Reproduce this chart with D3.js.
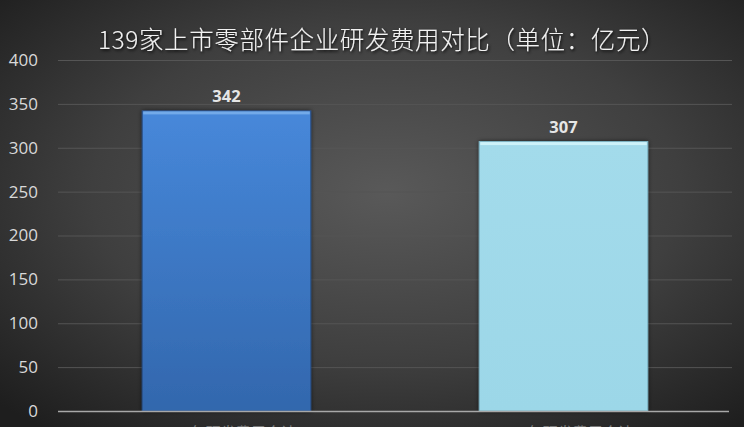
<!DOCTYPE html>
<html>
<head>
<meta charset="utf-8">
<script src="https://cdn.jsdelivr.net/npm/d3@7"></script>
<style>
  html, body { margin: 0; padding: 0; background: #2a2a2a; overflow: hidden; }
  svg { display: block; }
</style>
</head>
<body>
<svg id="chart" width="744" height="427"></svg>
<script>
// data
var titleText = "139家上市零部件企业研发费用对比（单位：亿元）";
var categories = ["2018年研发费用合计", "2017年研发费用合计"];
var values = [342, 307];
var yTicks = [0, 50, 100, 150, 200, 250, 300, 350, 400];

var svg = d3.select("#chart"),
    width = +svg.attr("width"),
    height = +svg.attr("height");

var plotLeft = 58, plotRight = 732, plotTop = 60, plotBottom = 411;

var defs = svg.append("defs");

// background radial gradient
var bg = defs.append("radialGradient")
    .attr("id", "bg")
    .attr("cx", "52%").attr("cy", "45%").attr("r", "72%");
bg.append("stop").attr("offset", "0%").attr("stop-color", "#595959");
bg.append("stop").attr("offset", "55%").attr("stop-color", "#3f3f3f");
bg.append("stop").attr("offset", "100%").attr("stop-color", "#1e1e1e");

var g1 = defs.append("linearGradient").attr("id", "bar0")
    .attr("x1", 0).attr("y1", 0).attr("x2", 0).attr("y2", 1);
g1.append("stop").attr("offset", "0%").attr("stop-color", "#4788da");
g1.append("stop").attr("offset", "100%").attr("stop-color", "#3267ad");

var g2 = defs.append("linearGradient").attr("id", "bar1")
    .attr("x1", 0).attr("y1", 0).attr("x2", 0).attr("y2", 1);
g2.append("stop").attr("offset", "0%").attr("stop-color", "#a3dbeb");
g2.append("stop").attr("offset", "100%").attr("stop-color", "#9cd7e8");

var glow = defs.append("filter").attr("id", "glow")
    .attr("x", "-10%").attr("y", "-30%").attr("width", "120%").attr("height", "160%");
glow.append("feDropShadow").attr("dx", 1).attr("dy", 1.5)
    .attr("stdDeviation", 1.5).attr("flood-color", "#000").attr("flood-opacity", 0.9);

var shade = defs.append("filter").attr("id", "shade")
    .attr("x", "-10%").attr("y", "-10%").attr("width", "120%").attr("height", "120%");
shade.append("feDropShadow").attr("dx", 0).attr("dy", 0)
    .attr("stdDeviation", 2).attr("flood-color", "#000").attr("flood-opacity", 0.6);

svg.append("rect")
    .attr("width", width).attr("height", height)
    .attr("fill", "url(#bg)");

var x = d3.scaleBand().domain(categories).range([plotLeft, plotRight]).paddingInner(0.5).paddingOuter(0.25);
var y = d3.scaleLinear().domain([0, 400]).range([plotBottom, plotTop]);

// title
svg.append("text")
    .attr("x", 382)
    .attr("y", 49)
    .attr("text-anchor", "middle")
    .style("font-family", "'Noto Sans CJK SC', sans-serif")
    .style("font-size", "24.5px")
    .style("font-weight", 300)
    .style("letter-spacing", "0.6px")
    .attr("fill", "#f2f2f2")
    .attr("filter", "url(#glow)")
    .text(titleText);

// gridlines
svg.append("g")
    .selectAll("line")
    .data(yTicks.filter(function(d) { return d > 0; }))
    .enter()
    .append("line")
    .attr("x1", plotLeft).attr("x2", plotRight)
    .attr("y1", function(d) { return y(d) + 0.5; })
    .attr("y2", function(d) { return y(d) + 0.5; })
    .attr("stroke", "#555555")
    .attr("stroke-width", 1);

// y axis labels
var yAxis = svg.append("g")
    .attr("transform", "translate(" + plotLeft + ",0)")
    .call(d3.axisLeft(y).tickValues(yTicks).tickSize(0).tickPadding(20));
yAxis.select(".domain").remove();
yAxis.selectAll("text")
    .style("font-family", "'Open Sans', 'Liberation Sans', sans-serif")
    .style("font-size", "17px")
    .attr("fill", "#d9d9d9");

// bars
svg.append("g")
    .selectAll("rect")
    .data(values)
    .enter()
    .append("rect")
    .attr("x", function(d, i) { return x(categories[i]); })
    .attr("y", function(d) { return y(d); })
    .attr("width", x.bandwidth())
    .attr("height", function(d) { return y(0) - y(d); })
    .attr("fill", function(d, i) { return "url(#bar" + i + ")"; })
    .attr("stroke", function(d, i) { return i == 0 ? "#2a528a" : "#7fb7c8"; })
    .attr("stroke-width", 1)
    .attr("filter", "url(#shade)");

// bevel highlight on top edge
svg.append("g")
    .selectAll("rect")
    .data(values)
    .enter()
    .append("rect")
    .attr("x", function(d, i) { return x(categories[i]) + 1; })
    .attr("y", function(d) { return y(d) + 0.5; })
    .attr("width", x.bandwidth() - 2)
    .attr("height", 3)
    .attr("fill", function(d, i) { return i == 0 ? "#78aeea" : "#d2f4fb"; })
    .attr("opacity", 0.9);

// value labels
svg.append("g")
    .selectAll("text")
    .data(values)
    .enter()
    .append("text")
    .attr("x", function(d, i) { return x(categories[i]) + x.bandwidth() / 2; })
    .attr("y", function(d) { return y(d) - 9; })
    .attr("text-anchor", "middle")
    .style("font-family", "'Open Sans', 'Liberation Sans', sans-serif")
    .style("font-size", "16.5px")
    .style("font-weight", "bold")
    .attr("fill", "#e6e6e6")
    .text(function(d) { return d; });

// x axis line
svg.append("line")
    .attr("x1", plotLeft).attr("x2", plotRight - 3)
    .attr("y1", plotBottom + 0.5).attr("y2", plotBottom + 0.5)
    .attr("stroke", "#a8a8a8")
    .attr("stroke-width", 1.5);

// category labels (mostly cut off by the picture edge)
svg.append("g")
    .selectAll("text")
    .data(categories)
    .enter()
    .append("text")
    .attr("x", function(d) { return x(d) + x.bandwidth() / 2; })
    .attr("y", 438)
    .attr("text-anchor", "middle")
    .style("font-family", "'Noto Sans CJK SC', sans-serif")
    .style("font-size", "15px")
    .attr("fill", "#7a7a7a")
    .text(function(d) { return d; });
</script>
</body>
</html>
